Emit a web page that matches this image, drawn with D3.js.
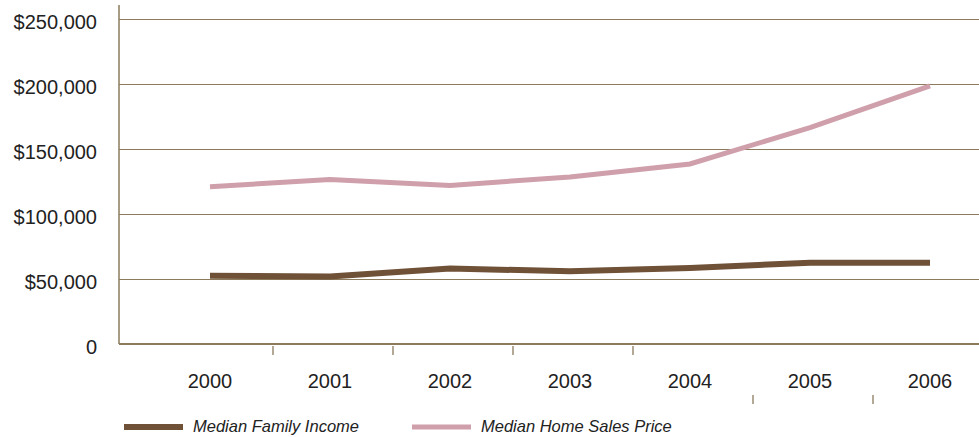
<!DOCTYPE html>
<html>
<head>
<meta charset="utf-8">
<script src="https://cdn.jsdelivr.net/npm/d3@7"></script>
<style>
    body { margin: 0; background: #fff; }
    svg { display: block; font-family: "Liberation Sans", Arial, sans-serif; }
</style>
</head>
<body>
<div id="chart"></div>
<script>
(function () {

    'use strict';

    // data
    var years = ['2000', '2001', '2002', '2003', '2004', '2005', '2006'];
    var familyIncome = [52500, 52000, 58000, 56000, 58500, 62500, 62500];
    var homePrice = [121000, 126500, 122000, 128500, 138500, 166500, 198500];
    var yTicks = [0, 50000, 100000, 150000, 200000, 250000];
    var seriesNames = ['Median Family Income', 'Median Home Sales Price'];

    var width = 979;
    var height = 437;

    var axisColor = '#8c7b5b';
    var incomeColor = '#6f5138';
    var priceColor = '#cf9fab';

    var svg = d3.select('#chart')
        .append('svg')
        .attr('width', width)
        .attr('height', height);

    var plotLeft = 119;
    var plotRight = width;
    var plotTop = 5;
    var plotBottom = 344;

    var x = d3.scaleBand()
        .domain(years)
        .range([150, 990])
        .paddingInner(0)
        .paddingOuter(0);

    var y = d3.scaleLinear()
        .domain([0, 250000])
        .range([plotBottom, 19]);

    var centerX = function (year) {
        return x(year) + x.bandwidth() / 2;
    };

    var formatMoney = function (d) {
        return d === 0 ? '0' : '$' + d3.format(',')(d);
    };

    // gridlines + y labels
    var yAxis = svg.append('g')
        .attr('transform', 'translate(' + plotLeft + ',0)')
        .call(d3.axisLeft(y)
            .tickValues(yTicks)
            .tickSize(-(plotRight - plotLeft))
            .tickPadding(22)
            .tickFormat(formatMoney));

    yAxis.select('.domain').remove();
    yAxis.selectAll('.tick line')
        .attr('stroke', axisColor)
        .attr('stroke-width', 1.2);
    yAxis.selectAll('.tick text')
        .attr('fill', '#222')
        .attr('dy', '0.45em')
        .style('font-size', '20px')
        .style('font-family', '"Liberation Sans", Arial, sans-serif');

    // axis lines
    svg.append('line')
        .attr('x1', plotLeft).attr('x2', plotLeft)
        .attr('y1', plotTop).attr('y2', plotBottom)
        .attr('stroke', axisColor)
        .attr('stroke-width', 1.5);

    svg.append('line')
        .attr('x1', plotLeft).attr('x2', plotRight)
        .attr('y1', plotBottom).attr('y2', plotBottom)
        .attr('stroke', axisColor)
        .attr('stroke-width', 2);

    // x labels
    var xAxis = svg.append('g')
        .attr('transform', 'translate(0,' + plotBottom + ')')
        .call(d3.axisBottom(x).tickSize(0).tickPadding(30));

    xAxis.select('.domain').remove();
    xAxis.selectAll('.tick text')
        .attr('fill', '#222')
        .style('font-size', '20px')
        .style('font-family', '"Liberation Sans", Arial, sans-serif');

    // category separator ticks (last two sit lower, as in the original)
    var boundaries = years.slice(1);
    svg.append('g')
        .selectAll('line')
        .data(boundaries)
        .enter()
        .append('line')
        .attr('x1', function (d) { return x(d) + 3; })
        .attr('x2', function (d) { return x(d) + 3; })
        .attr('y1', function (d, i) { return i < 4 ? plotBottom + 2 : plotBottom + 51; })
        .attr('y2', function (d, i) { return i < 4 ? plotBottom + 11 : plotBottom + 60; })
        .attr('stroke', axisColor)
        .attr('stroke-width', 1.3);

    // lines
    var line = d3.line()
        .x(function (d, i) { return centerX(years[i]); })
        .y(function (d) { return y(d); });

    svg.append('path')
        .datum(homePrice)
        .attr('d', line)
        .attr('fill', 'none')
        .attr('stroke', priceColor)
        .attr('stroke-width', 5);

    svg.append('path')
        .datum(familyIncome)
        .attr('d', line)
        .attr('fill', 'none')
        .attr('stroke', incomeColor)
        .attr('stroke-width', 6);

    // legend
    var legendItems = [
        {name: seriesNames[0], color: incomeColor, x: 124, w: 6},
        {name: seriesNames[1], color: priceColor, x: 412, w: 5}
    ];

    var legend = svg.append('g')
        .selectAll('g')
        .data(legendItems)
        .enter()
        .append('g')
        .attr('transform', function (d) { return 'translate(' + d.x + ',427)'; });

    legend.append('line')
        .attr('x1', 0).attr('x2', 59)
        .attr('y1', 0).attr('y2', 0)
        .attr('stroke', function (d) { return d.color; })
        .attr('stroke-width', function (d) { return d.w; });

    legend.append('text')
        .attr('x', 69)
        .attr('y', 5)
        .attr('fill', '#222')
        .style('font-size', '16.5px')
        .style('font-style', 'italic')
        .text(function (d) { return d.name; });

}());
</script>
</body>
</html>
